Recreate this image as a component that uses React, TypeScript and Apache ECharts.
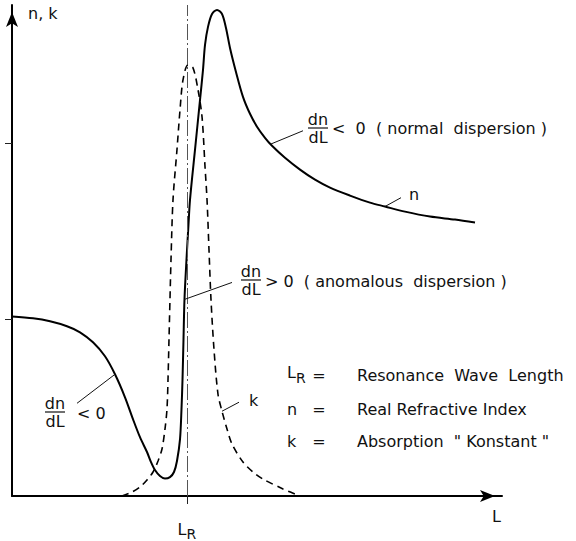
import React, { useEffect, useRef } from 'react';
import * as echarts from 'echarts';

// ---- data (L in arbitrary units 0..100, n/k in arbitrary units) ----
const L_R = 35.7;
const yTickValues = [1, 2];

const nL = [0, 4.29, 7.76, 11.22, 13.88, 16.53, 18.98, 21.02, 23.06, 24.69, 26.12, 27.55, 28.37, 29.18, 30.2, 31.22, 32.24, 33.06, 33.67, 34.29, 34.59, 34.8, 35.0, 35.2, 35.61, 36.02, 36.33, 37.35, 38.37, 38.98, 39.39, 40.0, 40.82, 41.84, 42.86, 43.67, 44.49, 45.71, 47.14, 48.57, 50.0, 51.63, 53.06, 55.71, 58.78, 61.84, 64.9, 68.98, 73.06, 76.12, 80.2, 85.31, 90.41, 94.49];
const nV = [1.017, 1.006, 0.989, 0.961, 0.927, 0.87, 0.791, 0.689, 0.559, 0.435, 0.333, 0.249, 0.192, 0.147, 0.113, 0.099, 0.107, 0.136, 0.198, 0.322, 0.492, 0.661, 0.887, 1.113, 1.339, 1.537, 1.678, 1.961, 2.243, 2.413, 2.554, 2.656, 2.729, 2.752, 2.729, 2.65, 2.537, 2.401, 2.26, 2.164, 2.091, 2.028, 1.983, 1.915, 1.848, 1.791, 1.746, 1.701, 1.661, 1.639, 1.61, 1.582, 1.565, 1.548];

const kL = [22.45, 24.49, 26.12, 27.55, 28.78, 29.8, 30.61, 31.22, 31.63, 31.84, 32.04, 32.24, 32.45, 32.86, 33.67, 34.29, 34.9, 35.92, 36.94, 37.96, 38.78, 39.39, 39.8, 40.2, 40.61, 41.22, 42.04, 42.86, 43.88, 44.9, 47.14, 49.18, 51.22, 55.31, 58.78];
const kV = [0, 0.0226, 0.0509, 0.0904, 0.136, 0.198, 0.266, 0.379, 0.492, 0.661, 0.887, 1.113, 1.339, 1.678, 1.961, 2.187, 2.356, 2.441, 2.424, 2.3, 2.147, 1.865, 1.678, 1.396, 1.113, 0.831, 0.576, 0.48, 0.379, 0.294, 0.192, 0.136, 0.096, 0.04, 0];

// leader lines (data coordinates): from curve to annotation
const leaderFrom = [[52.76, 1.992], [76.12, 1.639], [35.2, 1.113], [21.02, 0.689], [42.86, 0.48]];
const leaderTo = [[59.39, 2.068], [79.39, 1.689], [44.9, 1.209], [13.27, 0.525], [46.33, 0.531]];

const NB = '\u00a0';
const legendSymbols = ['L_R', 'n', 'k'];
const legendTexts = [`Resonance${NB}${NB}Wave${NB}${NB}Length`, `Real Refractive Index`, `Absorption${NB}${NB}"${NB}Konstant${NB}"`];

const FONT = '"DejaVu Sans", sans-serif';
const INK = '#111';

const txt = (text: string, x: number, y: number, align = 'left', size = 16, extra: any = {}) => ({
  type: 'text',
  x,
  y,
  silent: true,
  style: {
    text,
    fill: INK,
    font: `${size}px ${FONT}`,
    textAlign: align,
    textVerticalAlign: 'middle',
    align,
    verticalAlign: 'middle',
    ...extra,
  },
});

const bar = (cx: number, y: number, w: number) => ({
  type: 'line',
  silent: true,
  shape: { x1: cx - w / 2, y1: y, x2: cx + w / 2, y2: y },
  style: { stroke: INK, lineWidth: 1.2 },
});

const frac = (cx: number, y: number) => [txt('dn', cx, y - 9, 'center'), bar(cx, y, 20), txt('dL', cx, y + 9, 'center')];

const subRich = {
  a: { fontSize: 16, fontFamily: FONT, color: INK, padding: [0, 0, 5, 0] },
  b: { fontSize: 14, fontFamily: FONT, color: INK, padding: [5, 0, 0, 0] },
};

export default function App() {
  const ref = useRef<HTMLDivElement>(null);
  useEffect(() => {
    if (!ref.current) return;
    const chart = echarts.init(ref.current, undefined, { renderer: 'svg' });

    const legendRowsY = [375, 409, 441];
    const graphics: any[] = [];
    // annotations
    graphics.push(...frac(318, 128), txt(`<${NB}${NB}0${NB}${NB}(${NB}normal${NB}${NB}dispersion${NB})`, 332, 128));
    graphics.push(...frac(251, 280), txt(`>${NB}0${NB}${NB}(${NB}anomalous${NB}${NB}dispersion${NB})`, 265, 281));
    graphics.push(...frac(55, 412), txt(`<${NB}0`, 77, 413));
    graphics.push(txt('n', 409, 194));
    graphics.push(txt('k', 249, 400));
    // legend block
    legendSymbols.forEach((s, i) => {
      const y = legendRowsY[i];
      if (s === 'L_R') {
        graphics.push(txt('{a|L}{b|R}', 287, y, 'left', 16, { rich: subRich }));
      } else {
        graphics.push(txt(s, 287, y));
      }
      graphics.push(txt('=', 319, y, 'center'));
      graphics.push(txt(legendTexts[i], 357, y, 'left', 16));
    });

    const option: any = {
      animation: false,
      backgroundColor: '#fff',
      textStyle: { fontFamily: FONT },
      grid: { left: 12, top: 5, width: 490, height: 492, containLabel: false },
      xAxis: {
        type: 'value',
        min: 0,
        max: 100,
        name: 'L',
        nameLocation: 'end',
        nameGap: -10,
        nameTextStyle: { fontFamily: FONT, fontSize: 16, color: INK, verticalAlign: 'top', padding: [12, 0, 0, 0] },
        axisLine: {
          show: true,
          onZero: false,
          symbol: ['none', 'arrow'],
          symbolSize: [9, 15],
          symbolOffset: [0, -7],
          lineStyle: { color: '#000', width: 2 },
        },
        axisTick: { show: true, customValues: [L_R], length: 8, inside: false, lineStyle: { color: '#222', width: 1 } },
        axisLabel: {
          show: true,
          customValues: [L_R],
          margin: 25,
          formatter: () => '{a|L}{b|R}',
          rich: subRich,
        },
        splitLine: { show: false },
      },
      yAxis: {
        type: 'value',
        min: 0,
        max: 2.78,
        name: 'n, k',
        nameLocation: 'end',
        nameGap: -8,
        nameTextStyle: { fontFamily: FONT, fontSize: 16, color: INK, align: 'left', verticalAlign: 'middle', padding: [0, 0, 0, 16] },
        axisLine: {
          show: true,
          onZero: false,
          symbol: ['none', 'arrow'],
          symbolSize: [9, 15],
          symbolOffset: [0, -7],
          lineStyle: { color: '#000', width: 2 },
        },
        axisTick: { show: true, customValues: yTickValues, length: 7, inside: false, lineStyle: { color: '#222', width: 1 } },
        axisLabel: { show: false },
        splitLine: { show: false },
      },
      series: [
        {
          name: 'k',
          type: 'line',
          data: kL.map((x, i) => [x, kV[i]]),
          symbol: 'none',
          showSymbol: false,
          smooth: 0.3,
          silent: true,
          lineStyle: { color: '#000', width: 1.6, type: [7, 5] },
          markLine: {
            silent: true,
            symbol: ['none', 'none'],
            label: { show: false },
            lineStyle: { color: '#555', width: 1, type: [16, 3, 2, 3] },
            data: [{ xAxis: L_R }],
          },
        },
        {
          name: 'n',
          type: 'line',
          data: nL.map((x, i) => [x, nV[i]]),
          symbol: 'none',
          showSymbol: false,
          smooth: 0.3,
          silent: true,
          lineStyle: { color: '#000', width: 2 },
          markLine: {
            silent: true,
            symbol: ['none', 'none'],
            label: { show: false },
            lineStyle: { color: '#111', width: 1, type: 'solid' },
            data: leaderFrom.map((a, i) => [{ coord: a }, { coord: leaderTo[i] }]),
          },
        },
      ],
      graphic: graphics,
    };
    chart.setOption(option);
    return () => chart.dispose();
  }, []);
  return <div ref={ref} style={{ position: 'absolute', left: 0, top: 0, width: 576, height: 541 }} />;
}
